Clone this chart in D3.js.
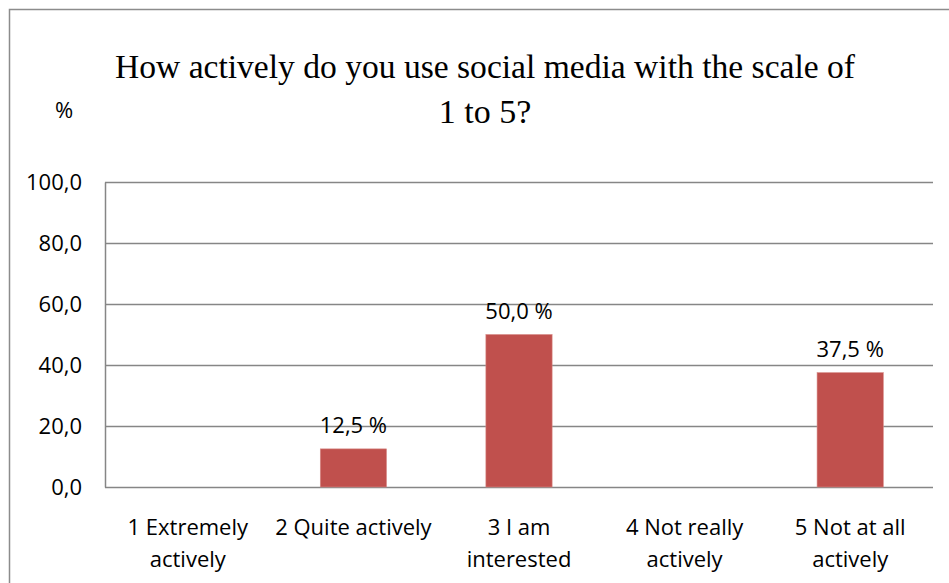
<!DOCTYPE html>
<html lang="en">
<head>
    <meta charset="UTF-8">
    <title>How actively do you use social media</title>
    <style>
        body { margin: 0; background: #fff; }
        .tick-label, .cat-label, .value-label, .unit-label {
            font-family: "Open Sans", "Noto Sans", sans-serif;
            fill: #000;
        }
        .title {
            font-family: "Liberation Serif", "DejaVu Serif", serif;
            fill: #000;
        }
    </style>
</head>
<body>
<div id="chart"></div>
<script src="https://d3js.org/d3.v7.min.js"></script>
<script>
    // values
    const categories = [
        ["1 Extremely", "actively"],
        ["2 Quite actively"],
        ["3 I am", "interested"],
        ["4 Not really", "actively"],
        ["5 Not at all", "actively"]
    ];
    const values = [0, 12.5, 50.0, 0, 37.5];
    const yTicks = [0, 20, 40, 60, 80, 100];
    const titleLines = ["How actively do you use social media with the scale of", "1 to 5?"];

    const svg = d3.select("#chart").append("svg")
        .attr("width", 949)
        .attr("height", 583);

    const margin = {top: 182, right: 16, bottom: 96, left: 105},
        width = 949 - margin.left - margin.right,
        height = 583 - margin.top - margin.bottom;

    const fmt = d => d.toFixed(1).replace(".", ",");

    // outer chart border (cropped at right and bottom)
    svg.append("rect")
        .attr("x", 9.5).attr("y", 9.5)
        .attr("width", 1000).attr("height", 1000)
        .attr("fill", "none")
        .attr("stroke", "#8c8c8c")
        .attr("stroke-width", 1.5);

    const x = d3.scaleBand()
        .domain(d3.range(categories.length))
        .range([0, width])
        .paddingInner(0.6)
        .paddingOuter(0.3);

    const y = d3.scaleLinear()
        .domain([0, 100])
        .range([height, 0]);

    const g = svg.append("g")
        .attr("transform", "translate(" + margin.left + "," + margin.top + ")");

    // gridlines
    g.append("g")
        .selectAll("line")
        .data(yTicks)
        .enter().append("line")
        .attr("x1", 0).attr("x2", width)
        .attr("y1", d => Math.round(y(d)) + 0.5)
        .attr("y2", d => Math.round(y(d)) + 0.5)
        .attr("stroke", "#868686")
        .attr("stroke-width", 1.5);

    // y axis
    const yAxis = g.append("g")
        .call(d3.axisLeft(y).tickValues(yTicks).tickSize(0).tickPadding(23).tickFormat(fmt));
    yAxis.select(".domain").attr("stroke", "#868686").attr("stroke-width", 1.5);
    yAxis.selectAll("text")
        .attr("class", "tick-label")
        .style("font-size", "22px")
        .attr("fill", "#000");

    // bars
    g.selectAll(".bar")
        .data(values)
        .enter().append("rect")
        .attr("class", "bar")
        .attr("x", (d, i) => x(i))
        .attr("width", x.bandwidth())
        .attr("y", d => y(d))
        .attr("height", d => height - y(d))
        .attr("fill", "#c0504d")
        .attr("stroke", "#d88a87")
        .attr("stroke-width", 0.6)
        .style("display", d => d > 0 ? null : "none");

    // value labels
    g.selectAll(".value-label")
        .data(values)
        .enter().filter(d => d > 0).append("text")
        .attr("class", "value-label")
        .attr("x", d => x(values.indexOf(d)) + x.bandwidth() / 2)
        .attr("y", d => y(d) - 16)
        .attr("text-anchor", "middle")
        .style("font-size", "22px")
        .text(d => fmt(d) + " %");

    // category labels
    const cat = g.selectAll(".cat-label")
        .data(categories)
        .enter().append("text")
        .attr("class", "cat-label")
        .attr("text-anchor", "middle")
        .attr("transform", (d, i) => "translate(" + (x(i) + x.bandwidth() / 2) + "," + (height + 48) + ")")
        .style("font-size", "22px");
    cat.selectAll("tspan")
        .data(d => d)
        .enter().append("tspan")
        .attr("x", 0)
        .attr("y", (d, i) => i * 32)
        .text(d => d);

    // unit label
    svg.append("text")
        .attr("class", "unit-label")
        .attr("x", 64)
        .attr("y", 118)
        .attr("text-anchor", "middle")
        .style("font-size", "22px")
        .text("%");

    // title
    svg.selectAll(".title")
        .data(titleLines)
        .enter().append("text")
        .attr("class", "title")
        .attr("x", 485)
        .attr("y", (d, i) => 78 + i * 45)
        .attr("text-anchor", "middle")
        .style("font-size", "34px")
        .attr("textLength", (d, i) => i === 0 ? 740 : null)
        .attr("lengthAdjust", "spacingAndGlyphs")
        .text(d => d);
</script>
</body>
</html>
